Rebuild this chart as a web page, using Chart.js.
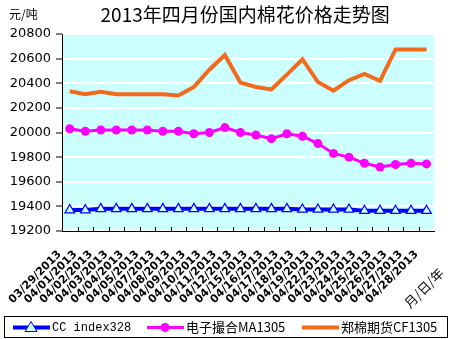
<!DOCTYPE html>
<html>
<head>
<meta charset="utf-8">
<script src="https://cdn.jsdelivr.net/npm/chart.js@4.4.1/dist/chart.umd.min.js"></script>
<style>
  html, body { margin: 0; padding: 0; background: #fff; }
  #wrap { width: 453px; height: 339px; }
</style>
</head>
<body>
<div id="wrap"><canvas id="cotton"></canvas></div>
<script>
// dates (月/日/年)
const dates = [
    "03/29/2013", "04/01/2013", "04/02/2013", "04/03/2013", "04/04/2013", "04/05/2013",
    "04/07/2013", "04/08/2013", "04/09/2013", "04/10/2013", "04/11/2013", "04/12/2013",
    "04/15/2013", "04/16/2013", "04/17/2013", "04/18/2013", "04/19/2013", "04/22/2013",
    "04/23/2013", "04/24/2013", "04/25/2013", "04/26/2013", "04/27/2013", "04/28/2013"
];
const ccIndex = [
    19370, 19370, 19380, 19380, 19380, 19380, 19380, 19380, 19380, 19380, 19380, 19380,
    19380, 19380, 19380, 19375, 19375, 19375, 19375, 19365, 19365, 19365, 19365, 19365
];
const ma1305 = [
    20030, 20010, 20020, 20020, 20020, 20020, 20010, 20010, 19990, 20000, 20040, 20000,
    19980, 19950, 19990, 19970, 19910, 19830, 19800, 19750, 19720, 19740, 19750, 19745
];
const cf1305 = [
    20335, 20310, 20330, 20310, 20310, 20310, 20310, 20300, 20370, 20510, 20630, 20405,
    20370, 20350, 20470, 20595, 20410, 20340, 20425, 20475, 20420, 20675, 20675, 20675
];
const seriesNames = ["CC index328", "电子撮合MA1305", "郑棉期货CF1305"];
const yMin = 19200, yMax = 20800, yStep = 200;

const BLUE = "#0000FF", PINK = "#FF00FF", ORANGE = "#F26A1B";

// plot background + titles + inner x ticks + legend
const decor = {
    id: "decor",
    beforeDraw(chart) {
        const { ctx, chartArea: a } = chart;
        ctx.save();
        ctx.fillStyle = "#CCFFFF";
        ctx.fillRect(a.left, a.top, a.right - a.left, a.bottom - a.top);
        ctx.restore();
    },
    afterDraw(chart) {
        const { ctx, chartArea: a } = chart;
        const x = chart.scales.x;
        ctx.save();
        // small ticks between categories, pointing up
        ctx.strokeStyle = "#000";
        ctx.lineWidth = 1;
        ctx.beginPath();
        for (let i = 0; i < dates.length - 1; i++) {
            const px = Math.round((x.getPixelForValue(i) + x.getPixelForValue(i + 1)) / 2) + 0.5;
            ctx.moveTo(px, a.bottom);
            ctx.lineTo(px, a.bottom - 4);
        }
        ctx.stroke();

        // title and unit
        ctx.fillStyle = "#000";
        ctx.textBaseline = "middle";
        ctx.textAlign = "center";
        ctx.font = "19px 'Noto Sans CJK SC'";
        ctx.fillText("2013年四月份国内棉花价格走势图", (a.left + a.right) / 2 - 3, 15);
        ctx.textAlign = "left";
        ctx.font = "12px 'Noto Sans CJK SC'";
        ctx.fillText("元/吨", 9, 14);

        // x axis title, slanted
        ctx.save();
        ctx.translate(424, 288);
        ctx.rotate(-Math.PI / 4);
        ctx.textAlign = "center";
        ctx.font = "13px 'Noto Sans CJK SC'";
        ctx.fillText("月/日/年", 0, 0);
        ctx.restore();

        // legend box
        const lx = 4, ly = 316, lw = 443, lh = 21;
        ctx.strokeStyle = "#000";
        ctx.lineWidth = 1;
        ctx.strokeRect(lx + 0.5, ly + 0.5, lw, lh);
        const cy = ly + lh / 2 + 1;
        const starts = [13, 147, 302];
        chart.data.datasets.forEach((ds, i) => {
            const sx = starts[i];
            ctx.strokeStyle = ds.borderColor;
            ctx.lineWidth = ds.borderWidth;
            ctx.beginPath();
            ctx.moveTo(sx, cy);
            ctx.lineTo(sx + 37, cy);
            ctx.stroke();
            const mx = sx + 18;
            if (ds.pointStyle === "triangle") {
                ctx.fillStyle = ds.pointBackgroundColor;
                ctx.strokeStyle = ds.pointBorderColor;
                ctx.lineWidth = 1;
                ctx.beginPath();
                ctx.moveTo(mx, cy - 6);
                ctx.lineTo(mx + 6, cy + 4);
                ctx.lineTo(mx - 6, cy + 4);
                ctx.closePath();
                ctx.fill();
                ctx.stroke();
            } else if (ds.pointRadius > 0) {
                ctx.fillStyle = ds.pointBackgroundColor;
                ctx.beginPath();
                ctx.arc(mx, cy, 4.5, 0, Math.PI * 2);
                ctx.fill();
            }
            ctx.fillStyle = "#000";
            ctx.textAlign = "left";
            ctx.font = i === 0 ? "12px 'Liberation Mono'" : "13px 'Noto Sans CJK SC'";
            ctx.fillText(ds.label, sx + 39, cy);
        });
        ctx.restore();
    }
};

new Chart(document.getElementById("cotton"), {
    type: "line",
    data: {
        labels: dates,
        datasets: [
            {
                label: seriesNames[0],
                data: ccIndex,
                borderColor: BLUE,
                borderWidth: 4,
                pointStyle: "triangle",
                pointRadius: 5.5,
                pointBackgroundColor: "#CCFFFF",
                pointBorderColor: BLUE,
                pointBorderWidth: 1.2,
                tension: 0
            },
            {
                label: seriesNames[1],
                data: ma1305,
                borderColor: PINK,
                borderWidth: 3,
                pointStyle: "circle",
                pointRadius: 4.5,
                pointBackgroundColor: PINK,
                pointBorderColor: PINK,
                pointBorderWidth: 0,
                tension: 0
            },
            {
                label: seriesNames[2],
                data: cf1305,
                borderColor: ORANGE,
                borderWidth: 4,
                pointRadius: 0,
                tension: 0
            }
        ]
    },
    options: {
        responsive: true,
        maintainAspectRatio: false,
        animation: false,
        layout: { padding: { left: 0, right: 2, top: 34, bottom: 0 } },
        plugins: {
            legend: { display: false },
            title: { display: false },
            tooltip: { enabled: false }
        },
        scales: {
            x: {
                offset: true,
                afterFit: s => { s.height = 108; },
                border: { color: "#000", width: 1 },
                grid: { display: false, drawTicks: false },
                ticks: {
                    autoSkip: false,
                    minRotation: 45,
                    maxRotation: 45,
                    padding: 17,
                    labelOffset: -10,
                    color: "#000",
                    font: { family: "DejaVu Sans", size: 11, weight: "bold" }
                }
            },
            y: {
                min: yMin,
                max: yMax,
                afterFit: s => { s.width = 62; },
                border: { color: "#000", width: 1 },
                grid: { color: "#FFFFFF", lineWidth: 2, tickColor: "#000", tickLength: 6, tickWidth: 1 },
                ticks: {
                    stepSize: yStep,
                    padding: 5,
                    color: "#000",
                    font: { family: "DejaVu Sans", size: 13 },
                    callback: v => String(v)
                }
            }
        }
    },
    plugins: [decor]
});
</script>
</body>
</html>
